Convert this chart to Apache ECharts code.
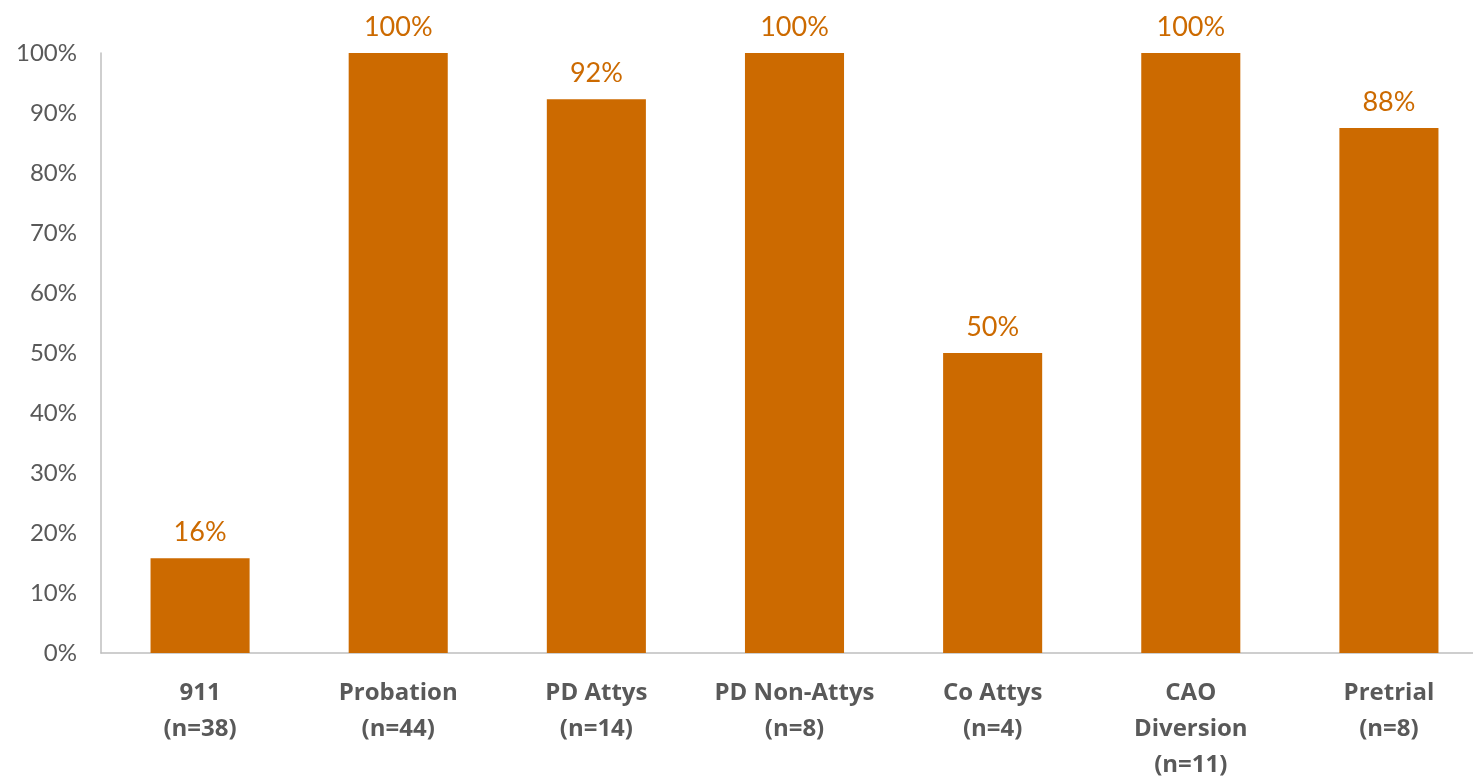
<!DOCTYPE html>
<html>
<head>
<meta charset="utf-8">
<script src="https://cdn.jsdelivr.net/npm/echarts@6/dist/echarts.min.js"></script>
<style>
html,body{margin:0;padding:0;background:#fff;}
#chart{width:1473px;height:779px;}
</style>
</head>
<body>
<div id="chart"></div>
<script>
const categories = ['911\n(n=38)', 'Probation\n(n=44)', 'PD Attys\n(n=14)', 'PD Non-Attys\n(n=8)', 'Co Attys\n(n=4)', 'CAO\nDiversion\n(n=11)', 'Pretrial\n(n=8)'];
const values = [15.8, 100, 92.3, 100, 50, 100, 87.5];
const yTicks = [0, 10, 20, 30, 40, 50, 60, 70, 80, 90, 100];

const chart = echarts.init(document.getElementById('chart'), null, {renderer: 'canvas'});
chart.setOption({
  animation: false,
  grid: {left: 101, width: 1387, top: 53, height: 600, containLabel: false, outerBoundsMode: 'none'},
  xAxis: {
    type: 'category',
    data: categories,
    axisLine: {lineStyle: {color: '#BFBFBF', width: 1.5}},
    axisTick: {show: false},
    axisLabel: {
      interval: 0,
      color: '#595959',
      fontFamily: '"Open Sans", Lato, sans-serif',
      fontWeight: 'bold',
      fontSize: 24,
      lineHeight: 36,
      margin: 22
    }
  },
  yAxis: {
    type: 'value',
    min: 0,
    max: 100,
    interval: 10,
    splitLine: {show: false},
    axisLine: {show: true, lineStyle: {color: '#BFBFBF', width: 1.5}},
    axisTick: {show: false},
    axisLabel: {
      color: '#595959',
      fontFamily: 'Lato, "Open Sans", sans-serif',
      fontSize: 24,
      margin: 24,
      formatter: v => yTicks.includes(v) ? v + '%' : ''
    }
  },
  series: [{
    type: 'bar',
    data: values,
    barWidth: '50%',
    itemStyle: {color: '#CC6A00'},
    label: {
      show: true,
      position: 'top',
      distance: 12,
      color: '#CC6A00',
      fontFamily: 'Lato, "Open Sans", sans-serif',
      fontSize: 27,
      formatter: p => Math.round(p.value) + '%'
    }
  }]
});
</script>
</body>
</html>
